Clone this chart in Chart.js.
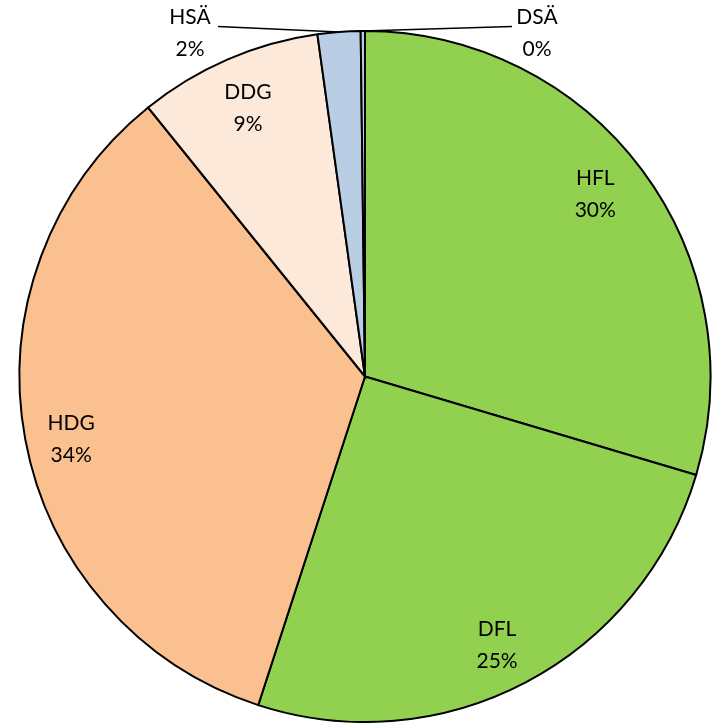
<!DOCTYPE html>
<html lang="de">
<head>
    <meta charset="UTF-8">
    <title>Kreisdiagramm</title>
    <script src="https://cdn.jsdelivr.net/npm/chart.js"></script>
    <style>
        html, body { margin: 0; padding: 0; background: #fff; }
        #wrap { width: 713px; height: 723px; }
    </style>
</head>
<body>
    <div id="wrap"><canvas id="myChart" width="713" height="723"></canvas></div>
    <script>
        var categories = ['HFL', 'DFL', 'HDG', 'DDG', 'HSÄ', 'DSÄ'];
        var shares = [29.6, 25.4, 34.2, 8.6, 2.0, 0.2];
        var percentLabels = ['30%', '25%', '34%', '9%', '2%', '0%'];
        var sliceColors = ['#92D050', '#92D050', '#FAC090', '#FDE9D9', '#B9CDE5', '#B9CDE5'];

        var labelFont = '21px Lato';
        // small hand nudges so labels sit where the original put them
        var nudge = [[-6, -6], [-5, 8], [-4, 9], [0, 2], [0, 0], [0, 0]];

        var sliceLabels = {
            id: 'sliceLabels',
            afterDatasetsDraw: function(chart) {
                var ctx = chart.ctx;
                var arcs = chart.getDatasetMeta(0).data;
                ctx.save();
                ctx.font = labelFont;
                ctx.fillStyle = '#000';
                ctx.textAlign = 'center';
                ctx.textBaseline = 'middle';
                arcs.forEach(function(arc, i) {
                    var p = arc.getProps(['x', 'y', 'startAngle', 'endAngle', 'outerRadius'], true);
                    var mid = (p.startAngle + p.endAngle) / 2;
                    if (shares[i] >= 5) {
                        var r = p.outerRadius * 0.853;
                        var lx = p.x + Math.cos(mid) * r + nudge[i][0];
                        var ly = p.y + Math.sin(mid) * r + nudge[i][1];
                        ctx.fillText(categories[i], lx, ly - 16);
                        ctx.fillText(percentLabels[i], lx, ly + 16);
                    } else {
                        // small slices: label outside with leader line
                        var ex = p.x + Math.cos(mid) * p.outerRadius;
                        var ey = p.y + Math.sin(mid) * p.outerRadius;
                        var left = i === 4;
                        var tx = left ? p.x - 175 : p.x + 172;
                        var lineEnd = left ? tx + 28 : tx - 25;
                        ctx.beginPath();
                        ctx.strokeStyle = '#000';
                        ctx.lineWidth = 1.5;
                        ctx.moveTo(ex, ey);
                        ctx.lineTo(lineEnd, p.y - 350);
                        ctx.stroke();
                        ctx.fillText(categories[i], tx, p.y - 359);
                        ctx.fillText(percentLabels[i], tx, p.y - 327);
                    }
                });
                ctx.restore();
            }
        };

        new Chart(document.getElementById('myChart'), {
            type: 'pie',
            data: {
                labels: categories,
                datasets: [{
                    data: shares,
                    backgroundColor: sliceColors,
                    borderColor: '#000',
                    borderWidth: 2,
                    borderJoinStyle: 'miter'
                }]
            },
            options: {
                responsive: false,
                animation: false,
                layout: { padding: { left: 18, right: 1, top: 30, bottom: 0 } },
                plugins: {
                    legend: { display: false },
                    tooltip: { enabled: false }
                }
            },
            plugins: [sliceLabels]
        });
    </script>
</body>
</html>
